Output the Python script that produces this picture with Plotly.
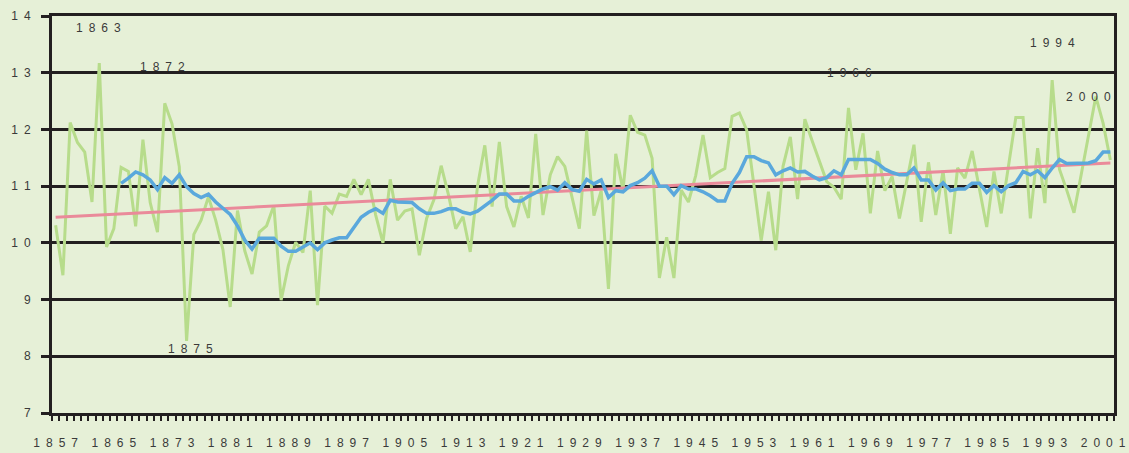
import plotly.graph_objects as go

# Annual values 1857-2002 (green line)
annual = [
    10.31, 9.43, 12.12, 11.77, 11.60, 10.72, 13.17, 9.93, 10.25, 11.33,   # 1857-1866
    11.26, 10.29, 11.82, 10.71, 10.19, 12.46, 12.10, 11.34, 8.27, 10.15,  # 1867-1876
    10.40, 10.81, 10.40, 9.88, 8.87, 10.57, 9.86, 9.45, 10.19, 10.30,     # 1877-1886
    10.66, 8.99, 9.60, 10.01, 9.83, 10.92, 8.90, 10.65, 10.52, 10.86,     # 1887-1896
    10.82, 11.12, 10.85, 11.12, 10.49, 10.00, 11.12, 10.40, 10.56, 10.60, # 1897-1906
    9.78, 10.43, 10.76, 11.36, 10.85, 10.25, 10.46, 9.84, 11.00, 11.72,   # 1907-1916
    10.64, 11.78, 10.64, 10.28, 10.82, 10.44, 11.92, 10.49, 11.20, 11.52, # 1917-1926
    11.35, 10.80, 10.25, 11.98, 10.48, 10.92, 9.19, 11.57, 10.93, 12.25,  # 1927-1936
    11.95, 11.90, 11.49, 9.38, 10.10, 9.38, 10.93, 10.72, 11.19, 11.90,   # 1937-1946
    11.15, 11.24, 11.31, 12.23, 12.29, 11.99, 11.05, 10.04, 10.90, 9.87,  # 1947-1956
    11.35, 11.87, 10.77, 12.18, 11.80, 11.45, 11.08, 10.98, 10.77, 12.38, # 1957-1966
    11.29, 11.93, 10.52, 11.62, 10.92, 11.17, 10.43, 11.08, 11.73, 10.37, # 1967-1976
    11.42, 10.49, 11.27, 10.16, 11.32, 11.14, 11.62, 10.95, 10.28, 11.26, # 1977-1986
    10.52, 11.36, 12.21, 12.21, 10.43, 11.67, 10.70, 12.87, 11.30, 10.93, # 1987-1996
    10.53, 11.21, 11.90, 12.58, 12.11, 11.46                              # 1997-2002
]
years = list(range(1857, 1857 + len(annual)))

# Moving average 1866-2002 (blue line)
moving_avg = [
    11.05, 11.14, 11.25, 11.20, 11.11, 10.94, 11.15, 11.05, 11.20, 10.99,  # 1866-1875
    10.87, 10.80, 10.86, 10.72, 10.61, 10.50, 10.30, 10.05, 9.89, 10.08,   # 1876-1885
    10.08, 10.08, 9.94, 9.85, 9.85, 9.93, 10.00, 9.88, 10.00, 10.05,       # 1886-1895
    10.09, 10.09, 10.28, 10.45, 10.54, 10.60, 10.52, 10.75, 10.72, 10.72,  # 1896-1905
    10.71, 10.60, 10.52, 10.52, 10.55, 10.60, 10.60, 10.54, 10.51, 10.56,  # 1906-1915
    10.65, 10.75, 10.86, 10.86, 10.74, 10.74, 10.82, 10.89, 10.95, 10.99,  # 1916-1925
    10.93, 11.06, 10.94, 10.91, 11.12, 11.04, 11.11, 10.80, 10.92, 10.90,  # 1926-1935
    11.01, 11.06, 11.14, 11.27, 11.00, 11.00, 10.85, 11.01, 10.95, 10.95,  # 1936-1945
    10.90, 10.83, 10.74, 10.74, 11.05, 11.24, 11.52, 11.52, 11.45, 11.41,  # 1946-1955
    11.20, 11.27, 11.32, 11.25, 11.26, 11.18, 11.11, 11.15, 11.27, 11.20,  # 1956-1965
    11.47, 11.47, 11.47, 11.47, 11.40, 11.30, 11.24, 11.20, 11.20, 11.32,  # 1966-1975
    11.11, 11.11, 10.93, 11.06, 10.92, 10.95, 10.95, 11.05, 11.05, 10.89,  # 1976-1985
    11.01, 10.90, 11.01, 11.06, 11.26, 11.20, 11.27, 11.15, 11.32, 11.47,  # 1986-1995
    11.40, 11.40, 11.40, 11.41, 11.45, 11.60, 11.60                        # 1996-2002
]
ma_years = list(range(1866, 1866 + len(moving_avg)))

# Linear trend (pink line) endpoints
trend_years = [1857, 2002]
trend_vals = [10.45, 11.41]

# Axis labels
x_label_years = list(range(1857, 2002, 8))
y_ticks = list(range(7, 15))

# Annotated years
ann_text = ["1863", "1872", "1875", "1966", "1994", "2000"]
ann_x = [1862.9, 1871.7, 1875.5, 1966.1, 1994.1, 1999.0]
ann_y = [13.79, 13.10, 8.12, 12.99, 13.52, 12.57]

SP = "\u2002"  # wide letter spacing as in the original
def spaced(v):
    return SP.join(str(v))

INK = "#231f20"
BG = "#e6f0d7"
TXT = "#3a3a3a"
FONT = "Liberation Sans"

fig = go.Figure()
fig.add_trace(go.Scatter(x=years, y=annual, mode="lines",
                         line=dict(color="#b7dc8b", width=3), showlegend=False,
                         hoverinfo="skip"))
fig.add_trace(go.Scatter(x=trend_years, y=trend_vals, mode="lines",
                         line=dict(color="#ea8a9a", width=3), showlegend=False,
                         hoverinfo="skip"))
fig.add_trace(go.Scatter(x=ma_years, y=moving_avg, mode="lines",
                         line=dict(color="#5aa8dc", width=3.5), showlegend=False,
                         hoverinfo="skip"))

for t, x, y in zip(ann_text, ann_x, ann_y):
    fig.add_annotation(x=x, y=y, xref="x", yref="y", text=spaced(t),
                       showarrow=False, font=dict(family=FONT, size=12, color=TXT))

fig.update_layout(
    width=1129, height=453, autosize=False,
    paper_bgcolor=BG, plot_bgcolor=BG,
    margin=dict(l=52, r=15, t=16, b=40),
    showlegend=False,
    xaxis=dict(
        range=[1856.5, 2002.5], automargin=False,
        tickmode="array", tickvals=x_label_years,
        ticktext=[spaced(y) for y in x_label_years],
        ticks="", showgrid=False, zeroline=False,
        showline=True, linecolor=INK, linewidth=3, mirror=True,
        minor=dict(tick0=1856.5, dtick=1, ticks="outside", ticklen=5,
                   tickwidth=2, tickcolor=INK, showgrid=False),
        ticklabelstandoff=17,
        tickfont=dict(family=FONT, size=12, color=TXT),
    ),
    yaxis=dict(
        range=[7, 14], automargin=False,
        tickmode="array", tickvals=y_ticks, ticktext=[spaced(v) for v in y_ticks],
        ticks="outside", ticklen=8, tickwidth=3, tickcolor=INK,
        showgrid=True, gridcolor=INK, gridwidth=3, zeroline=False,
        showline=True, linecolor=INK, linewidth=3, mirror=True,
        ticklabelstandoff=8,
        tickfont=dict(family=FONT, size=12, color=TXT),
    ),
)

fig.write_html("out.html", config={"displayModeBar": False},
               post_script="document.body.style.margin='0';document.body.style.overflow='hidden';")
